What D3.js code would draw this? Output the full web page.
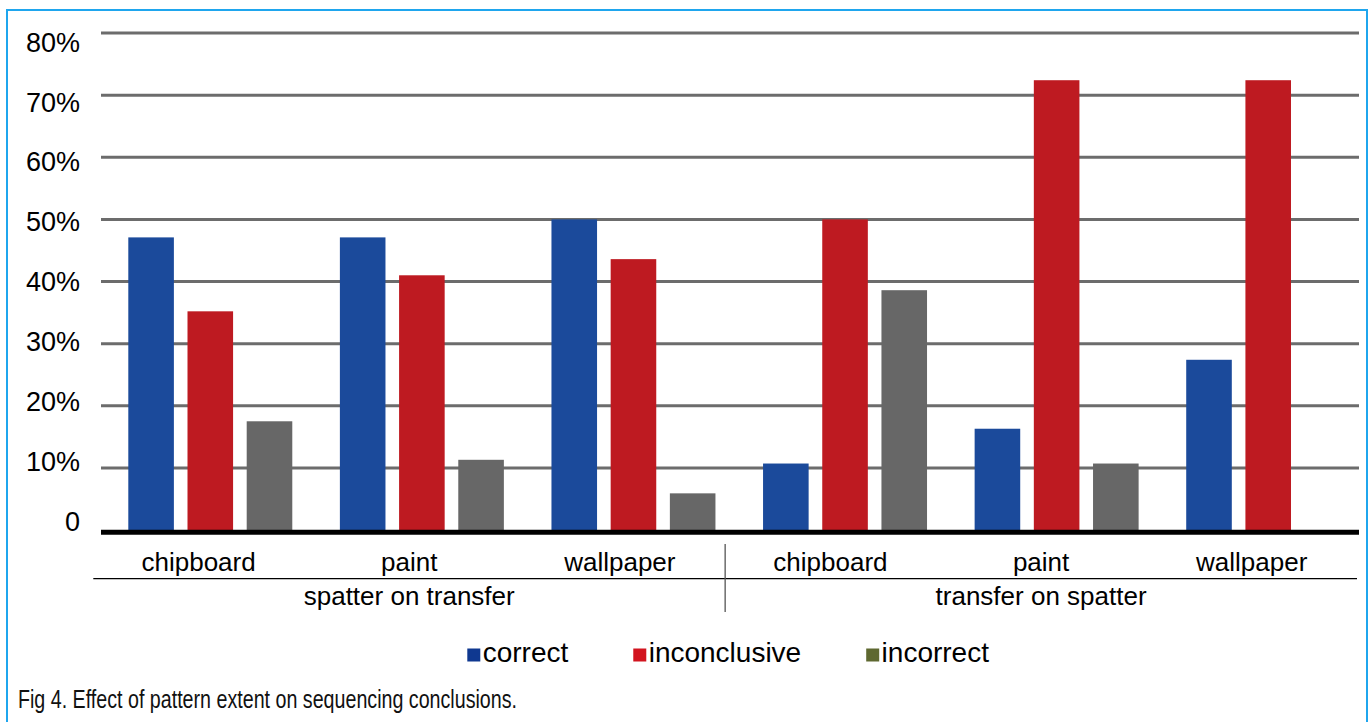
<!DOCTYPE html>
<html>
<head>
<meta charset="utf-8">
<script src="https://cdn.jsdelivr.net/npm/d3@7"></script>
<style>
  html, body { margin: 0; padding: 0; background: #fff; }
  svg { display: block; }
</style>
</head>
<body>
<svg id="chart" width="1370" height="722"></svg>
<script>
// ---- data ----
const categories = ["chipboard", "paint", "wallpaper", "chipboard", "paint", "wallpaper"];
const groupLabels = ["spatter on transfer", "transfer on spatter"];
const seriesNames = ["correct", "inconclusive", "incorrect"];
const correct      = [47.1, 47.1, 50.0, 10.7, 16.3, 27.4];
const inconclusive = [35.2, 41.0, 43.6, 50.0, 72.4, 72.4];
const incorrect    = [17.5, 11.3, 5.9, 38.6, 10.7, 0];
const yTicks = [0, 10, 20, 30, 40, 50, 60, 70, 80];
const yTickLabels = ["0", "10%", "20%", "30%", "40%", "50%", "60%", "70%", "80%"];
const caption = "Fig 4. Effect of pattern extent on sequencing conclusions.";

// ---- styles ----
const barColors = ["#1b4a9b", "#be1a21", "#676767"];
const legendColors = ["#0f3890", "#d2141f", "#5e6830"];
const FONT = "'Liberation Sans', Arial, Helvetica, sans-serif";

const svg = d3.select("#chart");
const values = [correct, inconclusive, incorrect];
const rows = categories.map((c, i) => ({ idx: i, cat: c, vals: values.map(v => v[i]) }));

// border
svg.append("rect")
  .attr("x", 7).attr("y", 10).attr("width", 1360).attr("height", 740)
  .attr("fill", "none").attr("stroke", "#1fa6ee").attr("stroke-width", 2);

// scales
const y = d3.scaleLinear().domain([0, 80]).range([530, 33]);
const yLab = d3.scaleLinear().domain([0, 80]).range([530.7, 51.7]);
const gridX = [101, 1359];

const xGroup = d3.scaleBand().domain(d3.range(categories.length)).range([104.5, 1374]).paddingInner(0);
const xInner = d3.scaleBand().domain(d3.range(seriesNames.length))
  .range([23.8, xGroup.bandwidth() - 23.8]).paddingInner(0.23).paddingOuter(0);
const xLabel = d3.scaleBand().domain(d3.range(categories.length)).range([93.3, 1357]);

// gridlines
svg.append("g").selectAll("line")
  .data(yTicks.filter(t => t > 0))
  .join("line")
  .attr("x1", gridX[0]).attr("x2", gridX[1])
  .attr("y1", d => y(d)).attr("y2", d => y(d))
  .attr("stroke", "#6c6c6c").attr("stroke-width", 3);

// bars
const g = svg.append("g").selectAll("g")
  .data(rows).join("g")
  .attr("transform", d => `translate(${xGroup(d.idx)},0)`);
g.selectAll("rect")
  .data(d => d.vals.map((v, s) => ({ v, s })))
  .join("rect")
  .attr("x", d => xInner(d.s))
  .attr("width", xInner.bandwidth())
  .attr("y", d => y(d.v))
  .attr("height", d => y(0) - y(d.v))
  .attr("fill", d => barColors[d.s]);

// baseline
svg.append("line")
  .attr("x1", gridX[0]).attr("x2", gridX[1])
  .attr("y1", y(0) + 2.2).attr("y2", y(0) + 2.2)
  .attr("stroke", "#000").attr("stroke-width", 5);

// y tick labels
svg.append("g").selectAll("text")
  .data(yTicks).join("text")
  .attr("x", 80).attr("y", d => yLab(d))
  .attr("text-anchor", "end")
  .attr("font-family", FONT).attr("font-size", 27).attr("fill", "#000")
  .text((d, i) => yTickLabels[i]);

// category labels
svg.append("g").selectAll("text")
  .data(rows).join("text")
  .attr("x", d => xLabel(d.idx) + xLabel.bandwidth() / 2)
  .attr("y", 571)
  .attr("text-anchor", "middle")
  .attr("font-family", FONT).attr("font-size", 26).attr("fill", "#000")
  .text(d => d.cat);

// group axis lines
svg.append("line")
  .attr("x1", xLabel.range()[0]).attr("x2", xLabel.range()[1])
  .attr("y1", 578.7).attr("y2", 578.7)
  .attr("stroke", "#000").attr("stroke-width", 1.3);
const sepX = xLabel(3);
svg.append("line")
  .attr("x1", sepX).attr("x2", sepX)
  .attr("y1", 544).attr("y2", 612)
  .attr("stroke", "#555").attr("stroke-width", 1.3);

// group labels
svg.append("g").selectAll("text")
  .data(groupLabels).join("text")
  .attr("x", (d, i) => {
    const a = xLabel(i * 3), b = xLabel(i * 3 + 2) + xLabel.bandwidth();
    return (a + b) / 2;
  })
  .attr("y", 605)
  .attr("text-anchor", "middle")
  .attr("font-family", FONT).attr("font-size", 26).attr("fill", "#000")
  .text(d => d);

// legend
const legend = svg.append("g");
let lx = 467.3;
seriesNames.forEach((name, i) => {
  legend.append("rect")
    .attr("x", lx).attr("y", 648.5).attr("width", 13).attr("height", 13)
    .attr("fill", legendColors[i]);
  const t = legend.append("text")
    .attr("x", lx + 15.4).attr("y", 661.7)
    .attr("font-family", FONT).attr("font-size", 28).attr("fill", "#000")
    .text(name);
  const w = t.node().getComputedTextLength();
  lx = lx + 15.4 + w + 65;
});

// caption
svg.append("text")
  .attr("x", 18).attr("y", 708)
  .attr("font-family", "'Liberation Sans Narrow', 'Arial Narrow', 'Liberation Sans', sans-serif")
  .attr("font-size", 25).attr("fill", "#111")
  .attr("textLength", 499).attr("lengthAdjust", "spacingAndGlyphs")
  .text(caption);
</script>
</body>
</html>
